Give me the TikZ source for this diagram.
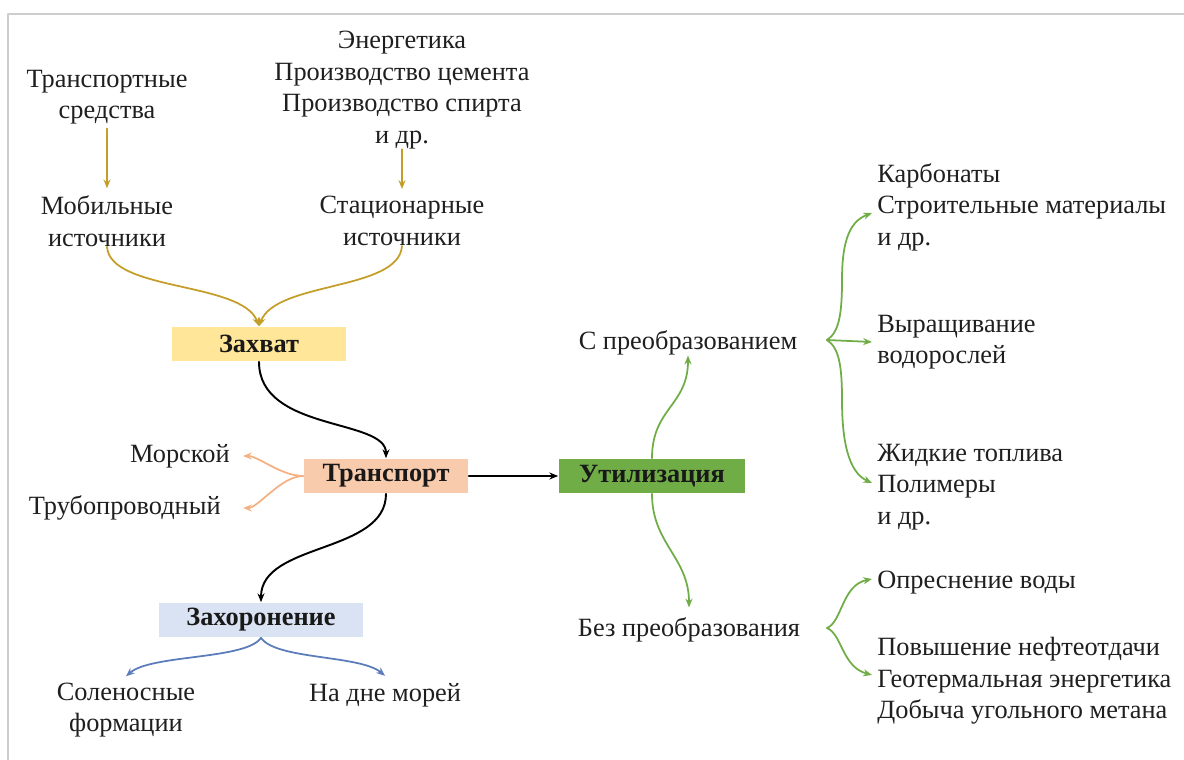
\documentclass[tikz,border=0pt]{standalone}
\usepackage{fontspec}
\setmainfont{Liberation Serif}
\usepackage{tikz}
\usetikzlibrary{arrows.meta,calc}
\definecolor{goldln}{RGB}{196,158,40}
\definecolor{orangeln}{RGB}{244,177,131}
\definecolor{blueln}{RGB}{91,124,186}
\definecolor{greenln}{RGB}{112,173,71}
\definecolor{captfill}{RGB}{255,230,153}
\definecolor{transfill}{RGB}{248,203,173}
\definecolor{utilfill}{RGB}{112,173,71}
\definecolor{storfill}{RGB}{218,227,243}
\definecolor{framegray}{RGB}{205,205,205}
\tikzset{
  txt/.style={align=center,inner sep=0pt,text=black!88,font=\fontsize{15}{18}\selectfont},
  txtl/.style={txt,align=left,anchor=west},
  txtr/.style={txt,anchor=east},
  stage/.style={inner sep=0pt,minimum height=0.7cm,text=black!90,font=\fontsize{15}{18}\selectfont\bfseries},
  goldarr/.style={->,goldln,line width=1pt},
  orangearr/.style={->,orangeln,line width=1pt},
  bluearr/.style={->,blueln,line width=1pt},
  greenarr/.style={->,greenln,line width=1pt},
  blackarr/.style={->,black,line width=1.1pt}
}
\begin{document}
\begin{tikzpicture}[line cap=round,line join=round,>={Stealth[length=5pt,width=4pt]},x=0.02cm,y=-0.02cm]
\useasboundingbox (0,0) rectangle (1184,760);
\draw [framegray,line width=1.2pt] (8,760) -- (8,14) -- (1184,14);
\node [txt] (src1) at (107,97) {Транспортные\\средства};
\node [txt] (mob) at (107,221) {Мобильные\\источники};
\node [txt] (src2) at (402,90) {Энергетика\\Производство цемента\\Производство спирта\\и др.};
\node [txt] (stat) at (402,221) {Стационарные\\источники};
\node [stage,fill=captfill,minimum width=3.48cm] (capt) at (259,344) {Захват};
\node [stage,fill=transfill,minimum width=3.3cm] (trans) at (386,476) {Транспорт};
\node [stage,fill=utilfill,minimum width=3.74cm] (util) at (652,476) {Утилизация};
\node [stage,fill=storfill,minimum width=4.08cm] (stor) at (261,620) {Захоронение};
\node [txtr] (sea) at (230,456) {Морской};
\node [txtr] (pipe) at (221,508) {Трубопроводный};
\node [txt] (salt) at (126,710) {Соленосные\\формации};
\node [txt] (seabed) at (385,695) {На дне морей};
\node [txt] (conv) at (688,343) {С преобразованием};
\node [txt] (noconv) at (689,630) {Без преобразования};
\node [txtl] (carb) at (877,207) {Карбонаты\\Строительные материалы\\и др.};
\node [txtl] (algae) at (877,342) {Выращивание\\водорослей};
\node [txtl] (fuel) at (877,487) {Жидкие топлива\\Полимеры\\и др.};
\node [txtl] (water) at (877,583) {Опреснение воды};
\node [txtl] (eor) at (877,681) {Повышение нефтеотдачи\\Геотермальная энергетика\\Добыча угольного метана};
\coordinate (b1) at (827,340);
\coordinate (b2) at (827,628);
\draw [goldarr] ($(src1.south)+(0,4)$) -- ($(mob.north)+(0,-7)$);
\draw [goldarr] (src2.south) -- ($(stat.north)+(0,-7)$);
\draw [goldarr] (mob.south) .. controls ($(mob.south)+(3,45)$) and ($(capt.north)+(-17,-45)$) .. (capt.north);
\draw [goldarr] (stat.south) .. controls ($(stat.south)+(-3,45)$) and ($(capt.north)+(17,-45)$) .. (capt.north);
\draw [blackarr] (capt.south) .. controls ($(capt.south)+(0,70)$) and ($(trans.north)+(0,-40)$) .. (trans.north);
\draw [blackarr] (trans.south) .. controls ($(trans.south)+(0,60)$) and ($(stor.north)+(0,-60)$) .. (stor.north);
\draw [blackarr] (trans.east) -- (util.west);
\draw [orangearr] (trans.west) .. controls ($(trans.west)+(-22,0)$) and ($(sea.east)+(28,0)$) .. ($(sea.east)+(13,0)$);
\draw [orangearr] (trans.west) .. controls ($(trans.west)+(-22,0)$) and ($(pipe.east)+(37,0)$) .. ($(pipe.east)+(22,0)$);
\draw [bluearr] (stor.south) .. controls ($(stor.south)+(-15,22)$) and ($(salt.north)+(25,-28)$) .. ($(salt.north)+(0,-6)$);
\draw [bluearr] (stor.south) .. controls ($(stor.south)+(15,22)$) and ($(seabed.north)+(-25,-28)$) .. ($(seabed.north)+(0,-7)$);
\draw [greenarr] (util.north) .. controls ($(util.north)+(0,-50)$) and ($(conv.south)+(0,50)$) .. (conv.south);
\draw [greenarr] (util.south) .. controls ($(util.south)+(0,50)$) and ($(noconv.north)+(0,-60)$) .. ($(noconv.north)+(0,-10)$);
\draw [greenarr] (b1) .. controls (840,332) and (842,310) .. (842,280) .. controls (842,245) and (848,222) .. ($(carb.west)+(-5,6)$);
\draw [greenarr] (b1) -- ($(algae.west)+(-5,0)$);
\draw [greenarr] (b1) .. controls (840,348) and (842,370) .. (842,400) .. controls (842,440) and (848,472) .. ($(fuel.west)+(-5,-4)$);
\draw [greenarr] (b2) .. controls (842,622) and (842,585) .. ($(water.west)+(-5,-4)$);
\draw [greenarr] (b2) .. controls (842,634) and (842,667) .. ($(eor.west)+(-5,-6)$);
\end{tikzpicture}
\end{document}
